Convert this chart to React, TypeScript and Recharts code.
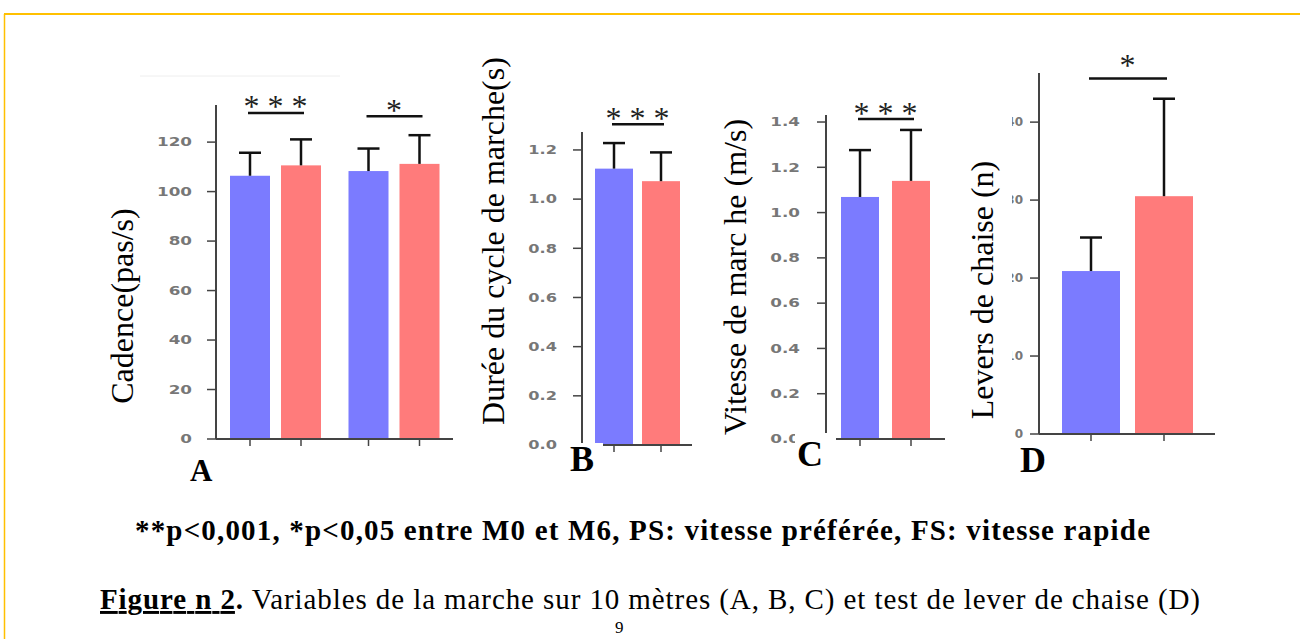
import React from "react";
import { BarChart, Bar, XAxis, YAxis, ErrorBar } from "recharts";

// A - cadence, two speeds (PS / FS), M0 vs M6
const cadenceGroups = ["PS", "FS"];
const cadenceM0 = [106.4, 108.3];
const cadenceM0Sd = [9.3, 9.1];
const cadenceM6 = [110.6, 111.2];
const cadenceM6Sd = [10.5, 11.6];
const cadenceStars = ["* * *", "*"];
const cadenceStarsAt = [131.8, 130.5];
const cadenceTicks = [0, 20, 40, 60, 80, 100, 120];

// B - duree du cycle
const cycleGroups = ["PS"];
const cycleM0 = [1.124];
const cycleM0Sd = [0.104];
const cycleM6 = [1.073];
const cycleM6Sd = [0.117];
const cycleStars = ["* * *"];
const cycleStarsAt = [1.305];
const cycleTicks = [0, 0.2, 0.4, 0.6, 0.8, 1.0, 1.2];

// C - vitesse de marche
const speedGroups = ["PS"];
const speedM0 = [1.069];
const speedM0Sd = [0.207];
const speedM6 = [1.14];
const speedM6Sd = [0.225];
const speedStars = ["* * *"];
const speedStarsAt = [1.413];
const speedTicks = [0, 0.2, 0.4, 0.6, 0.8, 1.0, 1.2, 1.4];

// D - levers de chaise
const chairGroups = ["n"];
const chairM0 = [20.9];
const chairM0Sd = [4.3];
const chairM6 = [30.5];
const chairM6Sd = [12.5];
const chairStars = ["*"];
const chairStarsAt = [45.6];
const chairTicks = [0, 10, 20, 30, 40];

const BLUE = "#7b7bff";
const RED = "#ff7b7b";
const AXIS = "#444";
const serif = "'Liberation Serif', 'Times New Roman', serif";

const rows = (g: string[], m0: number[], s0: number[], m6: number[], s6: number[], st: string[], at: number[]) =>
  g.map((group, i) => ({
    group,
    m0: m0[i],
    m0Err: [0, s0[i]],
    m6: m6[i],
    m6Err: [0, s6[i]],
    stars: st[i],
    starsAt: at[i],
  }));

const makeTick = (fmt: (v: number) => string, sx: number, clip?: number) => (p: any) => {
  const { x, y, payload, index } = p;
  const id = `tclip-${index}-${Math.round(x)}`;
  return (
    <g transform={`translate(${x},${y})`}>
      {clip != null && (
        <clipPath id={id}>
          <rect x={-clip} y={-12} width={clip + 6} height={24} />
        </clipPath>
      )}
      <g clipPath={clip != null ? `url(#${id})` : undefined}>
        <text
          transform={`scale(${sx},1)`}
          textAnchor="end"
          dy="0.36em"
          fontFamily="DejaVu Sans"
          fontWeight={700}
          fontSize={12}
          fill="#777"
        >
          {fmt(payload.value)}
        </text>
      </g>
    </g>
  );
};

const makeShape = (key: string, gap: number, bracket: boolean, starsDy: number) => (p: any) => {
  const { x, y, width, height, payload, fill } = p;
  const cx = x + width / 2;
  const base = y + height;
  const parts = [
    <rect key="r" x={x} y={y} width={width} height={height} fill={fill} />,
    <line key="t" x1={cx} x2={cx} y1={base} y2={base + 7} stroke={AXIS} strokeWidth={1.5} />,
  ];
  if (bracket && payload.stars) {
    const ly = base - (payload.starsAt * height) / payload[key];
    const lx = cx - width - gap;
    parts.push(
      <line key="b" x1={lx - 2} x2={cx + 3} y1={ly} y2={ly} stroke="#111" strokeWidth={2.5} />,
      <text
        key="s"
        x={(lx + cx) / 2}
        y={ly + starsDy}
        textAnchor="middle"
        fontFamily={serif}
        fontSize={32}
        fill="#222"
      >
        {payload.stars}
      </text>
    );
  }
  return <g>{parts}</g>;
};

function Panel(props: any) {
  const { data, ticks, top, fmt, axisX, right, yTop, yBase, barSize, barGap, labelGap, sx, clip, starsDy } = props;
  const yw = 80;
  const mt = 60;
  const mr = 12;
  const xh = 2;
  const mb = 14;
  const width = yw + (right - axisX) + mr;
  const height = mt + (yBase - yTop) + xh + mb;
  return (
    <div style={{ position: "absolute", left: axisX - yw, top: yTop - mt }}>
      <BarChart
        width={width}
        height={height}
        data={data}
        barSize={barSize}
        barGap={barGap}
        margin={{ top: mt, right: mr, bottom: mb, left: 0 }}
      >
        <XAxis
          dataKey="group"
          height={xh}
          tick={() => <g />}
          tickLine={false}
          axisLine={{ stroke: AXIS, strokeWidth: 2 }}
        />
        <YAxis
          type="number"
          width={yw}
          domain={[0, top]}
          ticks={ticks}
          interval={0}
          tickSize={9}
          tickMargin={labelGap - 9}
          tick={makeTick(fmt, sx, clip)}
          axisLine={{ stroke: AXIS, strokeWidth: 2 }}
          tickLine={{ stroke: AXIS, strokeWidth: 1.5 }}
        />
        <Bar dataKey="m0" fill={BLUE} isAnimationActive={false} shape={makeShape("m0", barGap, false, starsDy)}>
          <ErrorBar dataKey="m0Err" width={11} stroke="#111" strokeWidth={2.5} isAnimationActive={false} />
        </Bar>
        <Bar dataKey="m6" fill={RED} isAnimationActive={false} shape={makeShape("m6", barGap, true, starsDy)}>
          <ErrorBar dataKey="m6Err" width={11} stroke="#111" strokeWidth={2.5} isAnimationActive={false} />
        </Bar>
      </BarChart>
    </div>
  );
}

function YLabel({ x, y, text }: { x: number; y: number; text: string }) {
  return (
    <text x={x} y={y} transform={`rotate(-90 ${x} ${y})`} textAnchor="middle" fontFamily={serif} fontSize={32} fill="#000">
      {text}
    </text>
  );
}

export default function App() {
  const int = (v: number) => `${v}`;
  const dec = (v: number) => v.toFixed(1);
  return (
    <div
      style={{
        position: "absolute",
        left: 0,
        top: 0,
        width: 1300,
        height: 639,
        overflow: "hidden",
        background: "#fff",
      }}
    >
      <style>{`.recharts-errorBar line:nth-of-type(3){display:none}`}</style>

      <Panel
        data={rows(cadenceGroups, cadenceM0, cadenceM0Sd, cadenceM6, cadenceM6Sd, cadenceStars, cadenceStarsAt)}
        ticks={cadenceTicks}
        top={135}
        fmt={int}
        axisX={216}
        right={453}
        yTop={105}
        yBase={439}
        barSize={40}
        barGap={11}
        labelGap={24}
        sx={1.4}
        starsDy={4.5}
      />
      <Panel
        data={rows(cycleGroups, cycleM0, cycleM0Sd, cycleM6, cycleM6Sd, cycleStars, cycleStarsAt)}
        ticks={cycleTicks}
        top={1.273}
        fmt={dec}
        axisX={582}
        right={692}
        yTop={132}
        yBase={445}
        barSize={38}
        barGap={9}
        labelGap={25}
        sx={1.35}
        starsDy={4.5}
      />
      <Panel
        data={rows(speedGroups, speedM0, speedM0Sd, speedM6, speedM6Sd, speedStars, speedStarsAt)}
        ticks={speedTicks}
        top={1.431}
        fmt={dec}
        axisX={826}
        right={945}
        yTop={115}
        yBase={439}
        barSize={38}
        barGap={13}
        labelGap={26}
        sx={1.4}
        starsDy={4.5}
      />
      <Panel
        data={rows(chairGroups, chairM0, chairM0Sd, chairM6, chairM6Sd, chairStars, chairStarsAt)}
        ticks={chairTicks}
        top={46.3}
        fmt={int}
        axisX={1039}
        right={1215}
        yTop={73}
        yBase={434}
        barSize={58}
        barGap={15}
        labelGap={16}
        sx={1.0}
        clip={11}
        starsDy={-2}
      />

      <svg width={1300} height={639} style={{ position: "absolute", left: 0, top: 0, pointerEvents: "none" }}>
        {/* page frame */}
        <line x1={4} x2={1300} y1={14} y2={14} stroke="#ffc000" strokeWidth={2} />
        <line x1={4.5} x2={4.5} y1={14} y2={639} stroke="#ffc000" strokeWidth={1.5} />
        <line x1={140} x2={340} y1={76} y2={76} stroke="#eeeeee" strokeWidth={1} />

        {/* white patches behind panel letters */}
        <rect x={566} y={443} width={37} height={36} fill="#fff" />
        <rect x={795} y={433} width={41} height={40} fill="#fff" />

        <YLabel x={133} y={306} text="Cadence(pas/s)" />
        <YLabel x={504} y={241} text="Durée du cycle de marche(s)" />
        <YLabel x={746} y={277} text="Vitesse de marc he (m/s)" />
        <YLabel x={993} y={290} text="Levers de chaise (n)" />

        <text x={190} y={481} fontFamily={serif} fontWeight="bold" fontSize={31}>A</text>
        <text x={570} y={471} fontFamily={serif} fontWeight="bold" fontSize={36}>B</text>
        <text x={797} y={466} fontFamily={serif} fontWeight="bold" fontSize={36}>C</text>
        <text x={1020} y={472} fontFamily={serif} fontWeight="bold" fontSize={36}>D</text>

        <text x={135} y={540} fontFamily={serif} fontWeight="bold" fontSize={29} textLength={1015}>
          **p&lt;0,001, *p&lt;0,05 entre M0 et M6, PS: vitesse préférée, FS: vitesse rapide
        </text>
        <text x={100} y={609} fontFamily={serif} fontSize={29} textLength={1100}>
          <tspan fontWeight="bold" textDecoration="underline">Figure n 2</tspan>
          <tspan fontWeight="bold">.</tspan>
          <tspan> Variables de la marche sur 10 mètres (A, B, C) et test de lever de chaise (D)</tspan>
        </text>
        <text x={615} y={633} fontFamily={serif} fontSize={17}>9</text>
      </svg>
    </div>
  );
}
